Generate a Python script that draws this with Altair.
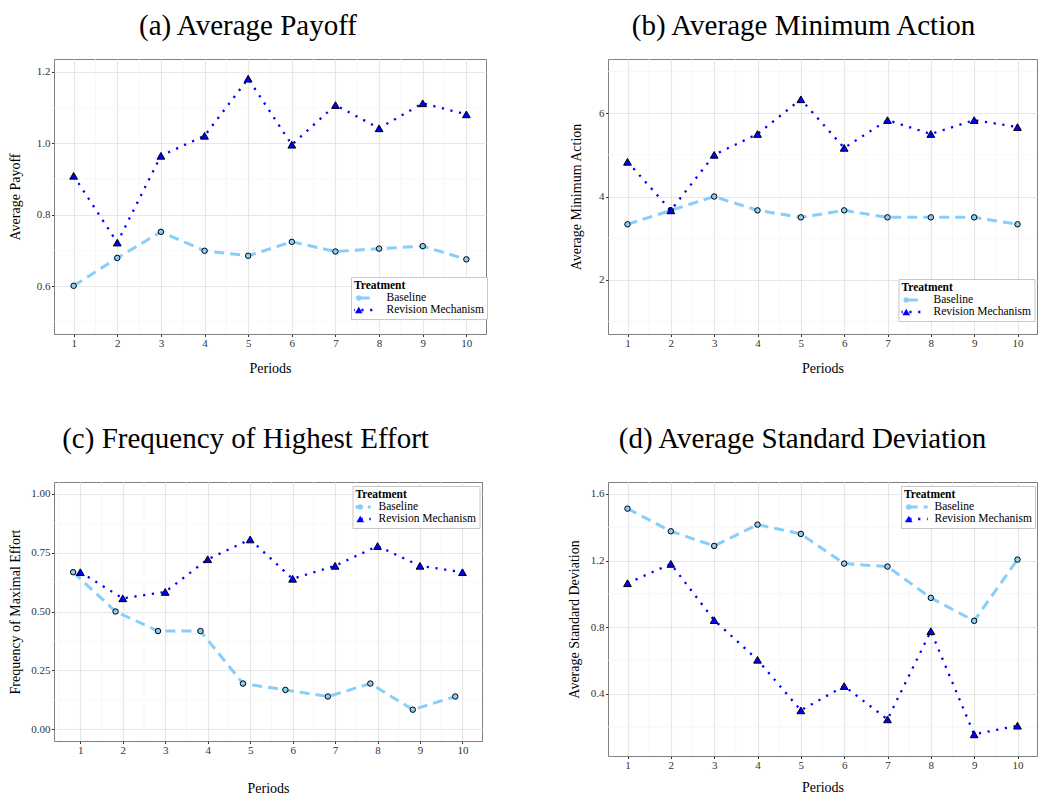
import altair as alt
import pandas as pd

# ---------------- data ----------------
periods = [1, 2, 3, 4, 5, 6, 7, 8, 9, 10]
treatments = ["Baseline", "Revision Mechanism"]

payoff_base = [0.601, 0.679, 0.752, 0.699, 0.685, 0.724, 0.697, 0.705, 0.712, 0.675]
payoff_rev = [0.909, 0.722, 0.965, 1.021, 1.181, 0.996, 1.107, 1.042, 1.112, 1.081]

minact_base = [3.333, 3.667, 4.0, 3.667, 3.5, 3.667, 3.5, 3.5, 3.5, 3.333]
minact_rev = [4.833, 3.667, 5.0, 5.5, 6.333, 5.167, 5.833, 5.5, 5.833, 5.667]

freq_base = [0.667, 0.5, 0.417, 0.417, 0.194, 0.167, 0.139, 0.194, 0.083, 0.139]
freq_rev = [0.667, 0.556, 0.583, 0.722, 0.806, 0.639, 0.694, 0.778, 0.694, 0.667]

sd_base = [1.512, 1.376, 1.288, 1.416, 1.360, 1.182, 1.164, 0.976, 0.838, 1.206]
sd_rev = [1.064, 1.180, 0.842, 0.604, 0.300, 0.446, 0.246, 0.776, 0.156, 0.208]

x_minor = [1.5, 2.5, 3.5, 4.5, 5.5, 6.5, 7.5, 8.5, 9.5]
x_minor_c = [0.5, 1.5, 2.5, 3.5, 4.5, 5.5, 6.5, 7.5, 8.5, 9.5]

y_major_a = [0.6, 0.8, 1.0, 1.2]
y_minor_a = [0.5, 0.7, 0.9, 1.1]
y_major_b = [2, 4, 6]
y_minor_b = [1, 3, 5, 7]
y_major_c = [0.0, 0.25, 0.5, 0.75, 1.0]
y_minor_c = [0.125, 0.375, 0.625, 0.875]
y_major_d = [0.4, 0.8, 1.2, 1.6]
y_minor_d = [0.2, 0.6, 1.0, 1.4]

# ---------------- style ----------------
FONT = "Liberation Serif"
LIGHT = "#87CEFA"
BLUE = "#0000FF"
MAJOR = "#E6E6E6"
MINOR = "#F3F3F3"
DODGE_C = -0.17
KEY_SIZE = 36  # legend symbol size -> unit radius 3px
KEY_R = 3.0
ROW_H = 10
LEG_TITLE_PAD = 1.5


def panel(title, ytitle, base, rev, xdom, ydom, ymajor, yminor, xminor, yfmt,
          w, h, lx, ly, keylen, gap, ytp, xtp, toff, dodge=0.0):
    df = pd.DataFrame({
        "Period": periods * 2,
        "Value": base + rev,
        "Treatment": [treatments[0]] * len(base) + [treatments[1]] * len(rev),
    })
    df["Treatment2"] = df["Treatment"]

    xsc = alt.Scale(domain=xdom, nice=False, zero=False)
    ysc = alt.Scale(domain=ydom, nice=False, zero=False)
    xaxis = alt.Axis(values=periods, format="d", title="Periods", grid=True,
                     gridColor=MAJOR, gridWidth=1.2, domain=False,
                     tickSize=2.5, tickColor="#333333", labelPadding=0.5,
                     titlePadding=xtp, labelFlush=False)
    yaxis = alt.Axis(values=ymajor, format=yfmt, title=ytitle, grid=True,
                     gridColor=MAJOR, gridWidth=1.2, domain=False,
                     tickSize=2.5, tickColor="#333333", labelPadding=1.5,
                     titlePadding=ytp, labelFlush=False)

    xenc = alt.X("xpos:Q", scale=xsc, axis=xaxis)
    yenc = alt.Y("Value:Q", scale=ysc, axis=yaxis)

    mx = alt.Chart(pd.DataFrame({"xpos": xminor})).mark_rule(
        color=MINOR, strokeWidth=0.7).encode(x=xenc)
    my = alt.Chart(pd.DataFrame({"Value": yminor})).mark_rule(
        color=MINOR, strokeWidth=0.7).encode(y=yenc)

    k = (keylen / 2.0) / KEY_R
    keypath = f"M{-k:.3f},0L{k:.3f},0"
    lx_eff = lx + keylen / 2 - KEY_R
    leg1 = alt.Legend(
        orient="none", legendX=lx_eff, legendY=ly, title="Treatment",
        titleFont=FONT, titleFontSize=11.5, titleFontWeight="bold",
        titleColor="black", titlePadding=LEG_TITLE_PAD, labelFont=FONT,
        labelFontSize=11.5, labelColor="black",
        labelOffset=keylen / 2 - KEY_R + gap,
        labelLimit=0, symbolType=keypath, symbolSize=KEY_SIZE,
        clipHeight=ROW_H, padding=3, rowPadding=0,
        strokeColor="#C8C8C8", fillColor="white", zindex=1)
    leg2 = alt.Legend(
        orient="none", legendX=lx_eff + 3 + KEY_R - 4.0,
        legendY=ly + 14.5 + LEG_TITLE_PAD,
        title=None, labelFont=FONT, labelFontSize=11.5, labelExpr="' '",
        clipHeight=ROW_H, padding=0, rowPadding=0,
        symbolStrokeColor="black", symbolStrokeWidth=1, symbolOpacity=1,
        zindex=2)

    calc = f"datum.Period + (datum.Treatment == 'Baseline' ? {dodge} : 0)"
    lines = alt.Chart(df).transform_calculate(xpos=calc).mark_line(
        strokeCap="butt").encode(
        x=xenc, y=yenc,
        color=alt.Color("Treatment:N",
                        scale=alt.Scale(domain=treatments, range=[LIGHT, BLUE]),
                        legend=leg1),
        strokeDash=alt.StrokeDash("Treatment:N",
                                  scale=alt.Scale(domain=treatments,
                                                  range=[[10, 6], [2.2, 6.6]]),
                                  legend=leg1),
        strokeWidth=alt.StrokeWidth("Treatment:N",
                                    scale=alt.Scale(domain=treatments,
                                                    range=[3, 2.3]),
                                    legend=leg1),
    )
    points = alt.Chart(df).transform_calculate(xpos=calc).mark_point(
        filled=True, stroke="black", strokeWidth=1, opacity=1).encode(
        x=xenc, y=yenc,
        fill=alt.Fill("Treatment2:N",
                      scale=alt.Scale(range=[LIGHT, BLUE]), legend=leg2),
        shape=alt.Shape("Treatment2:N",
                        scale=alt.Scale(range=["circle", "triangle-up"]),
                        legend=leg2),
        size=alt.Size("Treatment2:N",
                      scale=alt.Scale(range=[30, 60]), legend=leg2),
    )
    return alt.layer(mx, my, lines, points).properties(
        width=w, height=h,
        title=alt.TitleParams(title, font=FONT, fontSize=29,
                              fontWeight="normal", color="black",
                              anchor="middle", frame="bounds", offset=toff),
    )


pa = panel("(a) Average Payoff", "Average Payoff", payoff_base, payoff_rev,
           [0.55, 10.45], [0.466, 1.236], y_major_a, y_minor_a, x_minor, ".1f",
           432, 275, 284, 218, 32, 8, 13.75, 13, 18)
pb = panel("(b) Average Minimum Action", "Average Minimum Action", minact_base,
           minact_rev, [0.55, 10.45], [0.7, 7.3], y_major_b, y_minor_b, x_minor,
           "d", 429, 275, 278, 220, 31, 8, 14.75, 13, 18)
pc = panel("(c) Frequency of Highest Effort", "Frequency of Maximal Effort",
           freq_base, freq_rev, [0.38, 10.46], [-0.05, 1.05], y_major_c,
           y_minor_c, x_minor_c, ".2f", 428, 259, 292, 4, 19, 5, 8, 26, 28,
           dodge=DODGE_C)
pd_ = panel("(d) Average Standard Deviation", "Average Standard Deviation",
            sd_base, sd_rev, [0.55, 10.45], [0.026, 1.672], y_major_d,
            y_minor_d, x_minor, ".1f", 429, 274, 278, 4, 36, 4, 8.5, 10, 28)

chart = alt.concat(
    pa, pb, pc, pd_, columns=2,
    spacing={"row": 148, "column": 122}, bounds="flush", align="each",
).resolve_scale(
    color="independent", strokeDash="independent", strokeWidth="independent",
    fill="independent", shape="independent", size="independent",
).resolve_legend(
    color="independent", strokeDash="independent", strokeWidth="independent",
    fill="independent", shape="independent", size="independent",
).properties(
    padding={"left": 0, "top": 3, "right": 0, "bottom": 0},
).configure_view(
    stroke="#808080", strokeWidth=1, fill="white",
).configure_axis(
    labelFont=FONT, labelFontSize=11, labelColor="#333333",
    titleFont=FONT, titleFontSize=14, titleFontWeight="normal",
    titleColor="black",
)

chart.save("out.html", embed_options={"renderer": "svg", "actions": False})
